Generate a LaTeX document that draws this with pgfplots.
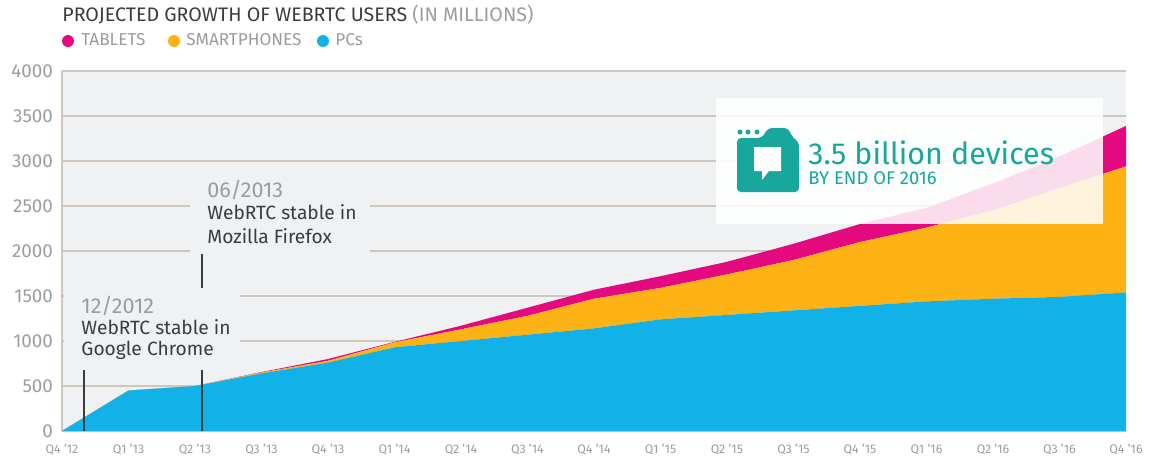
\documentclass[border=0pt]{standalone}
\usepackage{pgfplots}
\usepackage{fontspec}
\setmainfont{Fira Sans}
\pgfplotsset{compat=1.18}
\definecolor{plotbg}{HTML}{F0F1F3}
\definecolor{gridtan}{HTML}{CFC7BD}
\definecolor{labelgray}{HTML}{9A9C9E}
\definecolor{inkdark}{HTML}{3A3C3E}
\definecolor{pcblue}{HTML}{11B2E8}
\definecolor{phoneorange}{HTML}{FDB216}
\definecolor{tabletpink}{HTML}{E4097F}
\definecolor{teal}{HTML}{17A79C}
% Quarterly users in millions, per device class (stacked)
\begin{document}
\begin{tikzpicture}[x=0.5pt,y=-0.5pt,yshift=231.5pt]
\useasboundingbox (0,0) rectangle (1151,463);
\begin{axis}[
  at={(31pt,-215.5pt)}, anchor=south west,
  scale only axis, width=532pt, height=180pt,
  xmin=0, xmax=16, ymin=0, ymax=4000,
  stack plots=y,
  axis background/.style={fill=plotbg},
  xtick={0,...,16},
  xticklabels={Q4 '12,Q1 '13,Q2 '13,Q3 '13,Q4 '13,Q1 '14,Q2 '14,Q3 '14,Q4 '14,Q1 '15,Q2 '15,Q3 '15,Q4 '15,Q1 '16,Q2 '16,Q3 '16,Q4 '16},
  ytick={0,500,...,4000},
  ymajorgrids,
  grid style={gridtan,line width=0.7pt},
  axis line style={gridtan,line width=0.7pt},
  axis x line*=bottom, axis y line*=left,
  y tick style={draw=none},
  x tick style={white,line width=0.5pt},
  major tick length=2pt,
  tick align=outside,
  /pgf/number format/assume math mode=true,
  /pgf/number format/1000 sep={},
  yticklabel style={font=\fontsize{9.4}{10}\selectfont,text=labelgray,xshift=1pt},
  xticklabel style={font=\fontsize{6.2}{7}\selectfont,text=labelgray,yshift=-1pt},
]
\addplot[fill=pcblue,draw=none] coordinates {
 (0,0) (1,450) (2,500) (3,640) (4,760) (5,930) (6,1000) (7,1070) (8,1140)
 (9,1240) (10,1290) (11,1340) (12,1390) (13,1440) (14,1470) (15,1490) (16,1540)} \closedcycle;
\addplot[fill=phoneorange,draw=none] coordinates {
 (0,0) (1,0) (2,0) (3,10) (4,20) (5,55) (6,130) (7,210) (8,330)
 (9,350) (10,450) (11,560) (12,710) (13,820) (14,980) (15,1210) (16,1400)} \closedcycle;
\addplot[fill=tabletpink,draw=none] coordinates {
 (0,0) (1,0) (2,0) (3,5) (4,20) (5,5) (6,40) (7,90) (8,100)
 (9,130) (10,140) (11,180) (12,200) (13,220) (14,300) (15,350) (16,450)} \closedcycle;
\end{axis}
% Gaps in the grid behind the two captions
\fill[plotbg] (190,180) rectangle (370,262);
\fill[plotbg] (64,295) rectangle (240,368);
% Milestone rules
\draw[inkdark,line width=0.6pt] (84,370) -- (84,431);
\draw[inkdark,line width=0.6pt] (202,370) -- (202,431);
\draw[inkdark,line width=0.6pt] (202,254) -- (202,288);
% Captions
\node[anchor=west,inner sep=0,text=labelgray,font=\fontsize{10.8}{12}\selectfont] at (207,190) {06/2013};
\node[anchor=west,inner sep=0,text=inkdark,font=\fontsize{9.6}{11}\selectfont] at (207,212) {WebRTC stable in};
\node[anchor=west,inner sep=0,text=inkdark,font=\fontsize{9.6}{11}\selectfont] at (207,236) {Mozilla Firefox};
\node[anchor=west,inner sep=0,text=labelgray,font=\fontsize{10.8}{12}\selectfont] at (81,306) {12/2012};
\node[anchor=west,inner sep=0,text=inkdark,font=\fontsize{9.6}{11}\selectfont] at (81,327) {WebRTC stable in};
\node[anchor=west,inner sep=0,text=inkdark,font=\fontsize{9.6}{11}\selectfont] at (81,350) {Google Chrome};
% Title and key
\node[anchor=west,inner sep=0,font=\fontsize{9.8}{12}\selectfont,text=inkdark] at (62,15)
  {PROJECTED GROWTH OF WEBRTC USERS \textcolor{labelgray}{(IN MILLIONS)}};
\fill[tabletpink] (68,41) circle (6);
\node[anchor=west,inner sep=0,font=\fontsize{8.6}{10}\selectfont,text=labelgray] at (81,40) {TABLETS};
\fill[phoneorange] (174,41) circle (6);
\node[anchor=west,inner sep=0,font=\fontsize{8.6}{10}\selectfont,text=labelgray] at (186,40) {SMARTPHONES};
\fill[pcblue] (323,41) circle (6);
\node[anchor=west,inner sep=0,font=\fontsize{8.6}{10}\selectfont,text=labelgray] at (335,40) {PCs};
% Call-out panel
\fill[white,opacity=0.86] (716,98) rectangle (1103,224);
\fill[teal,rounded corners=2pt] (737,192) -- (737,138) -- (762,138) -- (768,128) -- (788,128) -- (793,138) -- (799,142) -- (799,192) -- cycle;
\foreach \dx in {740,748,757} \fill[teal] (\dx,132) circle (2.5);
\fill[white] (754,147) -- (781,147) -- (781,171) -- (769,171) -- (762,180) -- (762,171) -- (754,171) -- cycle;
\node[anchor=west,inner sep=0,text=teal,font=\fontsize{15.2}{18}\selectfont] at (808,153) {3.5 billion devices};
\node[anchor=west,inner sep=0,text=teal,font=\fontsize{9.2}{11}\selectfont] at (808,178) {BY END OF 2016};
\end{tikzpicture}
\end{document}
